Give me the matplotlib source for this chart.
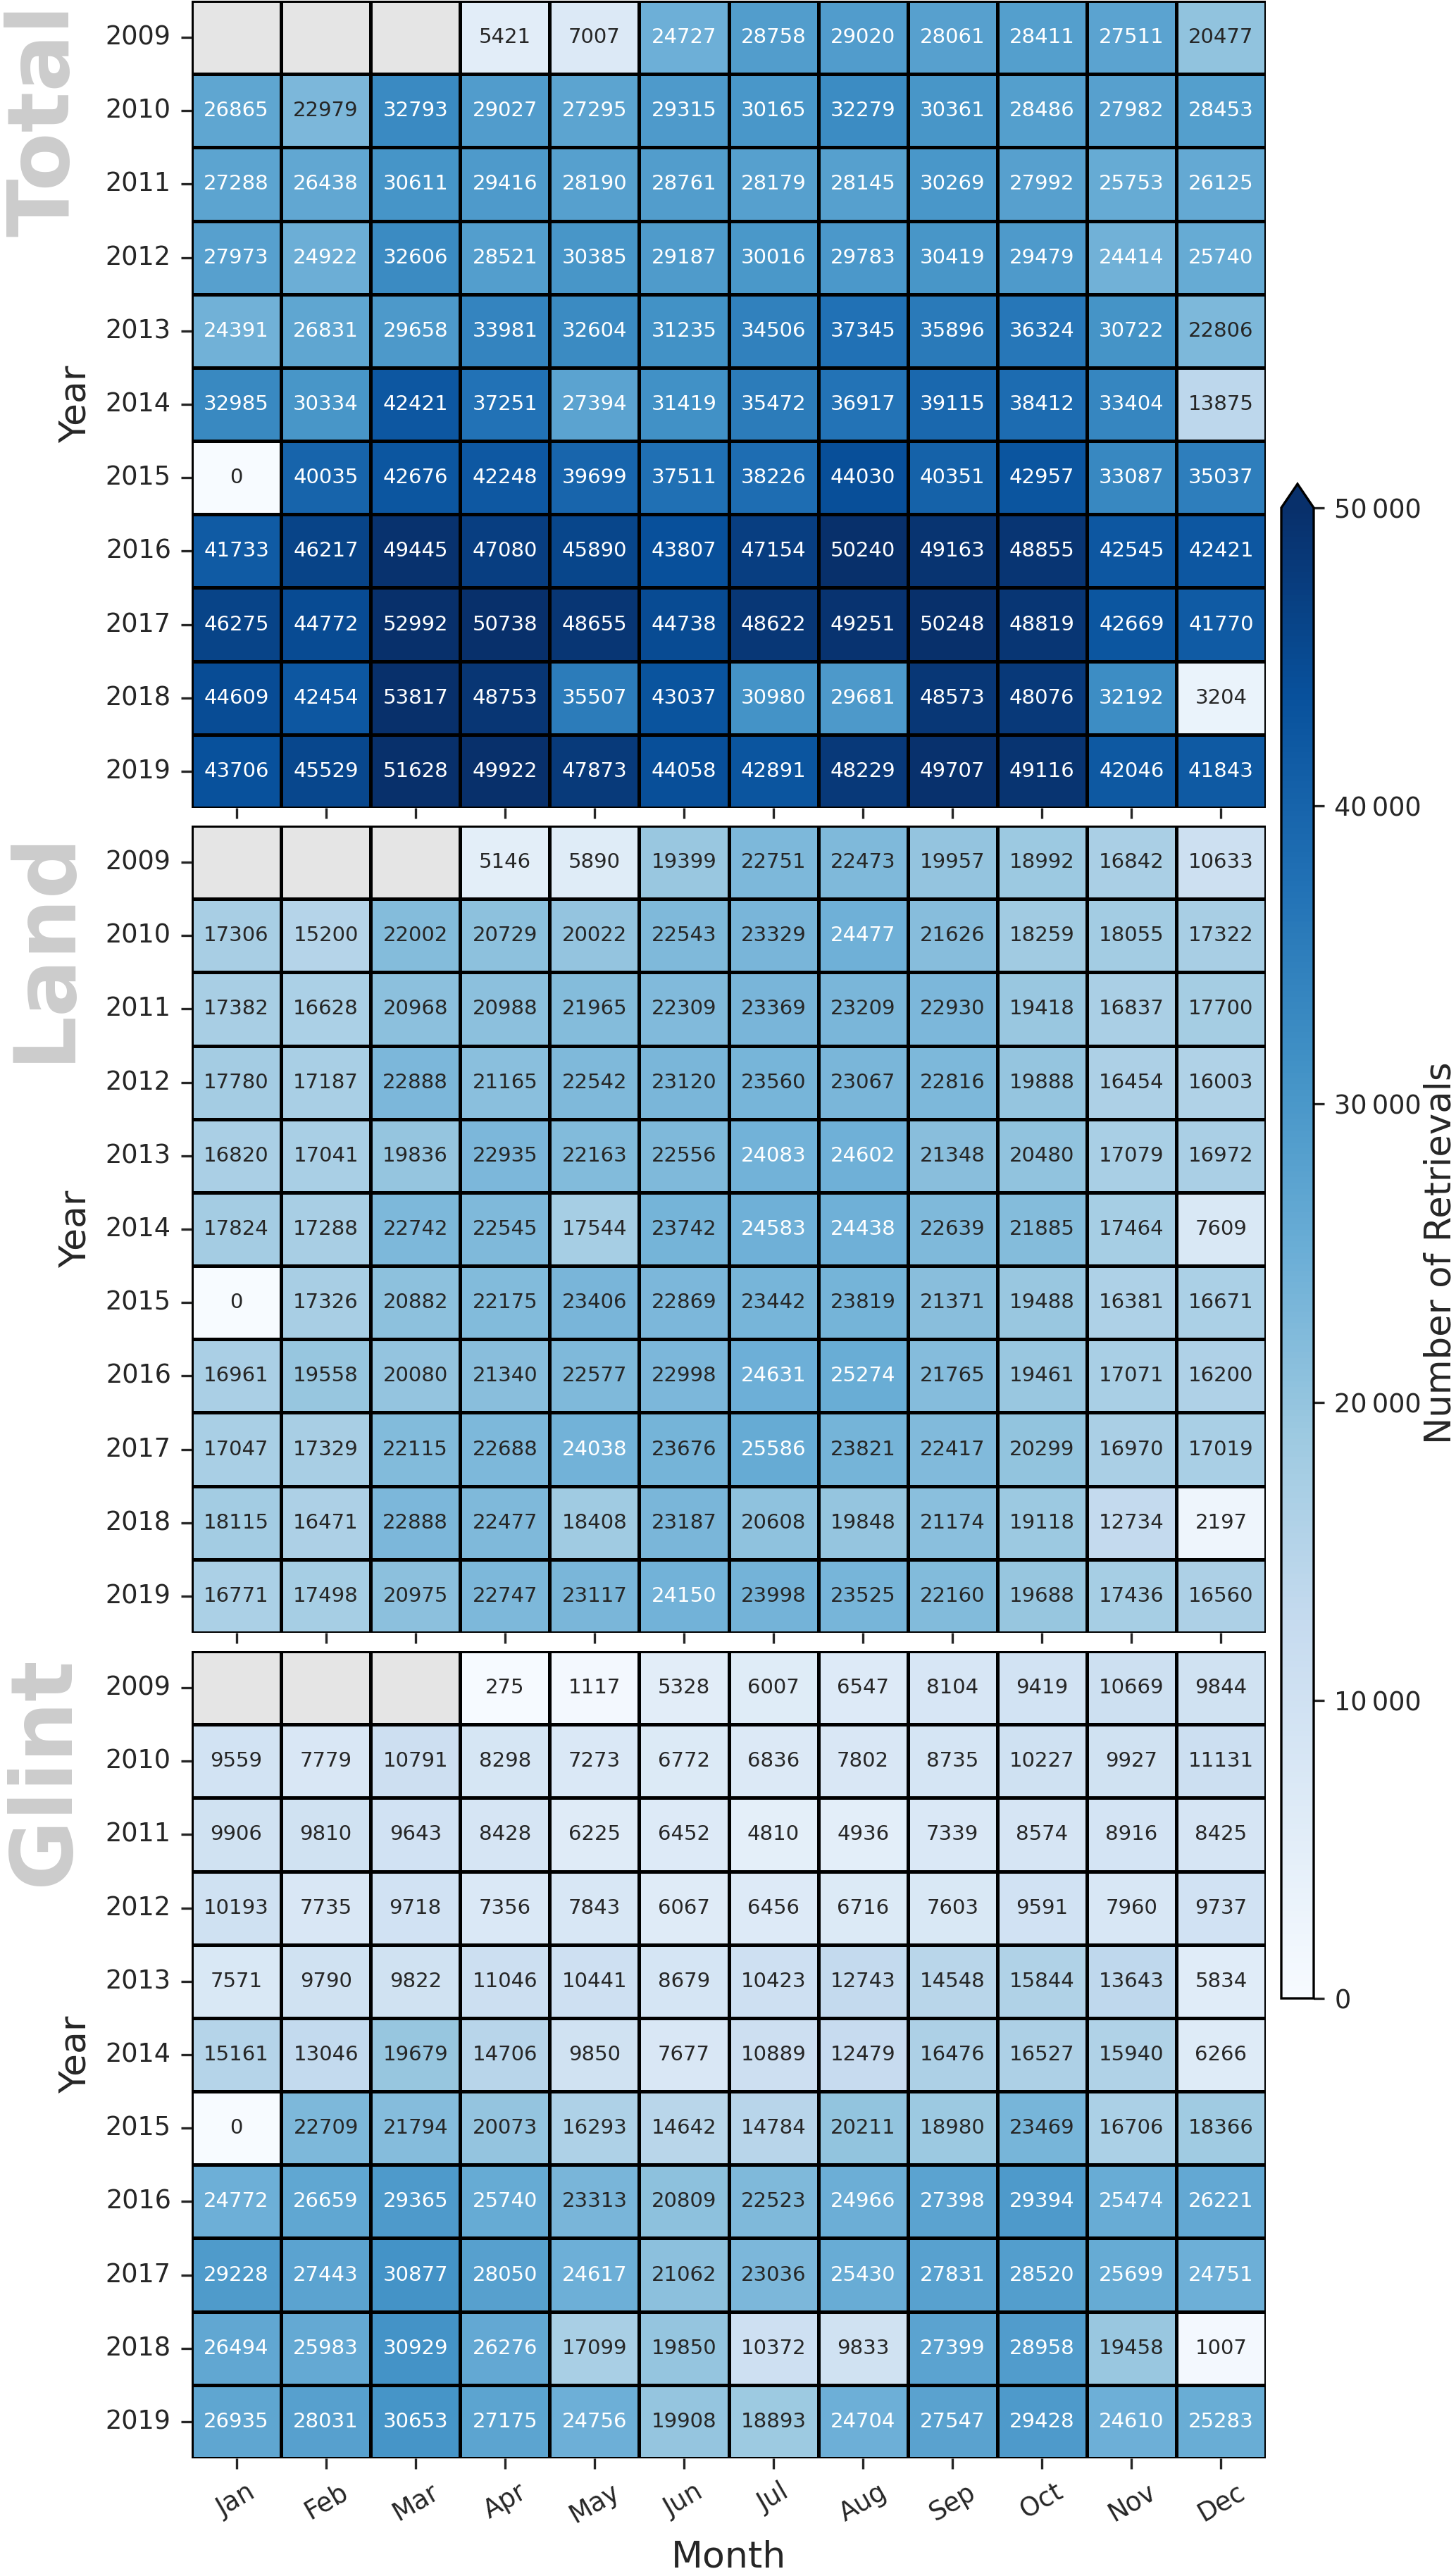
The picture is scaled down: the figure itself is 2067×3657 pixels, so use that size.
import numpy as np
import seaborn as sns
import matplotlib.pyplot as plt
from matplotlib.ticker import FuncFormatter

nan = np.nan

months = ["Jan", "Feb", "Mar", "Apr", "May", "Jun",
          "Jul", "Aug", "Sep", "Oct", "Nov", "Dec"]
years = ["2009", "2010", "2011", "2012", "2013", "2014",
         "2015", "2016", "2017", "2018", "2019"]

total = [
    [nan, nan, nan, 5421, 7007, 24727, 28758, 29020, 28061, 28411, 27511, 20477],
    [26865, 22979, 32793, 29027, 27295, 29315, 30165, 32279, 30361, 28486, 27982, 28453],
    [27288, 26438, 30611, 29416, 28190, 28761, 28179, 28145, 30269, 27992, 25753, 26125],
    [27973, 24922, 32606, 28521, 30385, 29187, 30016, 29783, 30419, 29479, 24414, 25740],
    [24391, 26831, 29658, 33981, 32604, 31235, 34506, 37345, 35896, 36324, 30722, 22806],
    [32985, 30334, 42421, 37251, 27394, 31419, 35472, 36917, 39115, 38412, 33404, 13875],
    [0, 40035, 42676, 42248, 39699, 37511, 38226, 44030, 40351, 42957, 33087, 35037],
    [41733, 46217, 49445, 47080, 45890, 43807, 47154, 50240, 49163, 48855, 42545, 42421],
    [46275, 44772, 52992, 50738, 48655, 44738, 48622, 49251, 50248, 48819, 42669, 41770],
    [44609, 42454, 53817, 48753, 35507, 43037, 30980, 29681, 48573, 48076, 32192, 3204],
    [43706, 45529, 51628, 49922, 47873, 44058, 42891, 48229, 49707, 49116, 42046, 41843],
]

land = [
    [nan, nan, nan, 5146, 5890, 19399, 22751, 22473, 19957, 18992, 16842, 10633],
    [17306, 15200, 22002, 20729, 20022, 22543, 23329, 24477, 21626, 18259, 18055, 17322],
    [17382, 16628, 20968, 20988, 21965, 22309, 23369, 23209, 22930, 19418, 16837, 17700],
    [17780, 17187, 22888, 21165, 22542, 23120, 23560, 23067, 22816, 19888, 16454, 16003],
    [16820, 17041, 19836, 22935, 22163, 22556, 24083, 24602, 21348, 20480, 17079, 16972],
    [17824, 17288, 22742, 22545, 17544, 23742, 24583, 24438, 22639, 21885, 17464, 7609],
    [0, 17326, 20882, 22175, 23406, 22869, 23442, 23819, 21371, 19488, 16381, 16671],
    [16961, 19558, 20080, 21340, 22577, 22998, 24631, 25274, 21765, 19461, 17071, 16200],
    [17047, 17329, 22115, 22688, 24038, 23676, 25586, 23821, 22417, 20299, 16970, 17019],
    [18115, 16471, 22888, 22477, 18408, 23187, 20608, 19848, 21174, 19118, 12734, 2197],
    [16771, 17498, 20975, 22747, 23117, 24150, 23998, 23525, 22160, 19688, 17436, 16560],
]

glint = [
    [nan, nan, nan, 275, 1117, 5328, 6007, 6547, 8104, 9419, 10669, 9844],
    [9559, 7779, 10791, 8298, 7273, 6772, 6836, 7802, 8735, 10227, 9927, 11131],
    [9906, 9810, 9643, 8428, 6225, 6452, 4810, 4936, 7339, 8574, 8916, 8425],
    [10193, 7735, 9718, 7356, 7843, 6067, 6456, 6716, 7603, 9591, 7960, 9737],
    [7571, 9790, 9822, 11046, 10441, 8679, 10423, 12743, 14548, 15844, 13643, 5834],
    [15161, 13046, 19679, 14706, 9850, 7677, 10889, 12479, 16476, 16527, 15940, 6266],
    [0, 22709, 21794, 20073, 16293, 14642, 14784, 20211, 18980, 23469, 16706, 18366],
    [24772, 26659, 29365, 25740, 23313, 20809, 22523, 24966, 27398, 29394, 25474, 26221],
    [29228, 27443, 30877, 28050, 24617, 21062, 23036, 25430, 27831, 28520, 25699, 24751],
    [26494, 25983, 30929, 26276, 17099, 19850, 10372, 9833, 27399, 28958, 19458, 1007],
    [26935, 28031, 30653, 27175, 24756, 19908, 18893, 24704, 27547, 29428, 24610, 25283],
]

panel_names = ["Total", "Land", "Glint"]
panel_data = [total, land, glint]
cbar_ticks = [0, 10000, 20000, 30000, 40000, 50000]

plt.rcParams['font.family'] = 'DejaVu Sans'
plt.rcParams['text.color'] = '.15'
plt.rcParams['axes.labelcolor'] = '.15'
plt.rcParams['xtick.color'] = '.15'
plt.rcParams['ytick.color'] = '.15'
plt.rcParams['xtick.labelsize'] = 8.8
plt.rcParams['ytick.labelsize'] = 8.8

W, H = 2067, 3657
fig = plt.figure(figsize=(W / 300, H / 300), dpi=300)

left = 272 / W
width = 1525 / W
height = 1146 / H
bottoms = [1 - 1147 / H, 1 - 2318 / H, 1 - 3490 / H]

cax = fig.add_axes([1819 / W, 1 - 2837 / H, 46 / W, 2150 / H])

cmap = plt.get_cmap('Blues').copy()
cmap.set_bad('#e5e5e5')

for i, (name, data) in enumerate(zip(panel_names, panel_data)):
    ax = fig.add_axes([left, bottoms[i], width, height])
    first = i == 0
    sns.heatmap(np.array(data, dtype=float), ax=ax, cmap=cmap, vmin=0, vmax=50000,
                annot=True, fmt='.0f', annot_kws={'size': 7},
                linewidths=1.2, linecolor='black',
                xticklabels=months, yticklabels=years,
                cbar=first, cbar_ax=cax if first else None,
                cbar_kws={'extend': 'max', 'extendfrac': 0.016,
                          'ticks': cbar_ticks})
    plt.setp(ax.get_yticklabels(), rotation=0)
    ax.set_ylabel("Year", fontsize=12.5)
    if i == 2:
        plt.setp(ax.get_xticklabels(), rotation=30)
        ax.set_xlabel("Month", fontsize=12.5)
    else:
        ax.tick_params(labelbottom=False)

    if first:
        cb = ax.collections[0].colorbar
        cb.outline.set_linewidth(0.8)
        cb.outline.set_edgecolor('black')
        cb.ax.yaxis.set_major_formatter(
            FuncFormatter(lambda v, p: f"{int(v):,}".replace(",", "\u2009")))
        cb.ax.tick_params(labelsize=8.8)
        cb.set_label("Number of Retrievals", fontsize=12.3, labelpad=0.5)

    top = bottoms[i] + height
    fig.text(5 / W, top - 170 / H, name, rotation=90, fontsize=29,
             fontweight='bold', color='#cccccc', ha='left', va='center')

fig.savefig('out.png', dpi=300)
